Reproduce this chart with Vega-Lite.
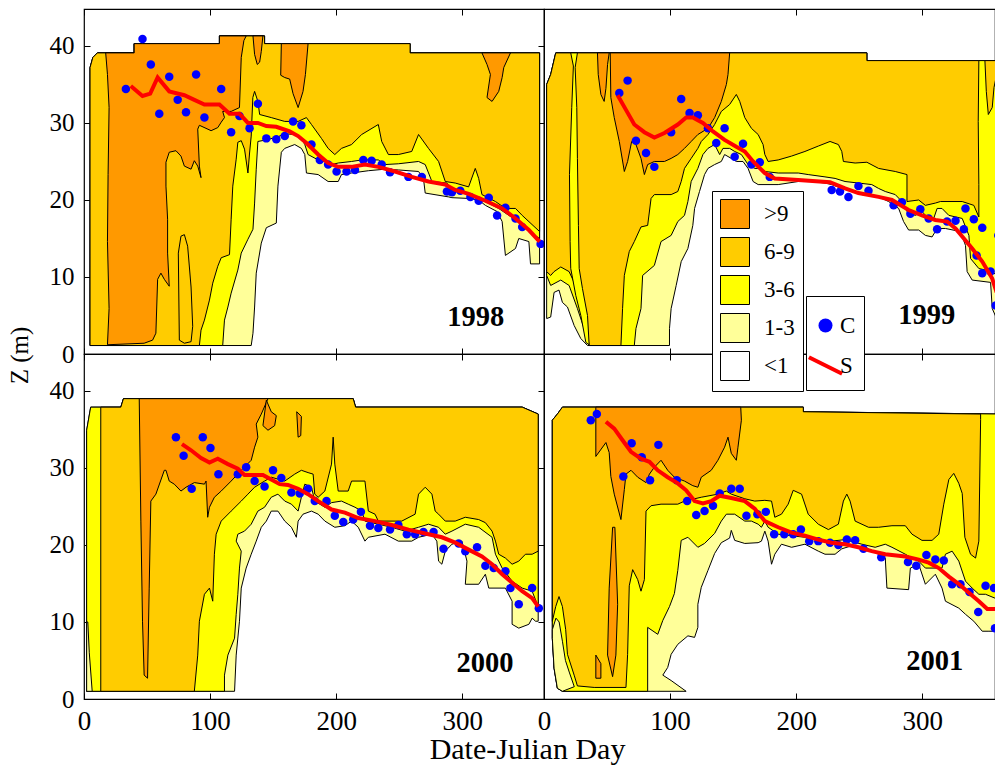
{
"$schema":"https://vega.github.io/schema/vega-lite/v6.json",
"background":"white",
"padding":{"left":6,"top":7,"right":0,"bottom":0},
"autosize":{"type":"pad"},
"columns":2,
"bounds":"flush",
"spacing":0,
"config":{
 "view":{"stroke":"black","strokeWidth":1.2},
 "axis":{"domain":false,"grid":false,"ticks":true,"tickSize":-6,"tickColor":"black","tickWidth":1,"labelFont":"Liberation Serif","labelColor":"black","labelFlush":false,"labelOverlap":false,"titleFont":"Liberation Serif","titleColor":"black","titleFontWeight":"normal"}
},
"datasets":{
"g98":[
{"k":"a","l":"1-3","x":4.8,"y":1.1},{"k":"a","l":"1-3","x":4.8,"y":37.2},{"k":"a","l":"1-3","x":7,"y":38.5},{"k":"a","l":"1-3","x":10.6,"y":39.1},{"k":"a","l":"1-3","x":39.8,"y":39.1},{"k":"a","l":"1-3","x":39.8,"y":40.3},{"k":"a","l":"1-3","x":107.4,"y":40.3},{"k":"a","l":"1-3","x":107.4,"y":41.3},{"k":"a","l":"1-3","x":143.2,"y":41.3},{"k":"a","l":"1-3","x":143.2,"y":40.3},{"k":"a","l":"1-3","x":258.6,"y":40.3},{"k":"a","l":"1-3","x":258.6,"y":39.1},{"k":"a","l":"1-3","x":361.3,"y":39.1},{"k":"a","l":"1-3","x":361.3,"y":11.7},{"k":"a","l":"1-3","x":354.1,"y":11.7},{"k":"a","l":"1-3","x":352.8,"y":14.6},{"k":"a","l":"1-3","x":344.8,"y":15},{"k":"a","l":"1-3","x":342.2,"y":13.7},{"k":"a","l":"1-3","x":334.2,"y":12.8},{"k":"a","l":"1-3","x":331.6,"y":17.2},{"k":"a","l":"1-3","x":327.6,"y":18.5},{"k":"a","l":"1-3","x":318.3,"y":19.3},{"k":"a","l":"1-3","x":313,"y":20},{"k":"a","l":"1-3","x":305,"y":20.2},{"k":"a","l":"1-3","x":291.8,"y":20.3},{"k":"a","l":"1-3","x":289.1,"y":20.4},{"k":"a","l":"1-3","x":270.6,"y":20.9},{"k":"a","l":"1-3","x":269.2,"y":22.8},{"k":"a","l":"1-3","x":265.3,"y":23.7},{"k":"a","l":"1-3","x":249.3,"y":23.9},{"k":"a","l":"1-3","x":238.7,"y":24},{"k":"a","l":"1-3","x":225.5,"y":23.8},{"k":"a","l":"1-3","x":212.2,"y":23.5},{"k":"a","l":"1-3","x":204.2,"y":23.3},{"k":"a","l":"1-3","x":201.6,"y":22.4},{"k":"a","l":"1-3","x":193.6,"y":22.4},{"k":"a","l":"1-3","x":185.7,"y":23.3},{"k":"a","l":"1-3","x":176.4,"y":23.5},{"k":"a","l":"1-3","x":175.1,"y":25.9},{"k":"a","l":"1-3","x":172.4,"y":26.7},{"k":"a","l":"1-3","x":167.1,"y":27.2},{"k":"a","l":"1-3","x":159.2,"y":26.7},{"k":"a","l":"1-3","x":156.5,"y":26.2},{"k":"a","l":"1-3","x":153.8,"y":21.8},{"k":"a","l":"1-3","x":152.5,"y":17},{"k":"a","l":"1-3","x":144.6,"y":16.4},{"k":"a","l":"1-3","x":140.6,"y":14.4},{"k":"a","l":"1-3","x":136.6,"y":10.5},{"k":"a","l":"1-3","x":135.3,"y":6.1},{"k":"a","l":"1-3","x":134,"y":2.7},{"k":"a","l":"1-3","x":132.6,"y":1.1},{"k":"a","l":"1-3","x":4.8,"y":1.1},
{"k":"b","l":"3-6","x":4.8,"y":1.1},{"k":"b","l":"3-6","x":4.8,"y":37.2},{"k":"b","l":"3-6","x":7,"y":38.5},{"k":"b","l":"3-6","x":10.6,"y":39.1},{"k":"b","l":"3-6","x":39.8,"y":39.1},{"k":"b","l":"3-6","x":39.8,"y":40.3},{"k":"b","l":"3-6","x":107.4,"y":40.3},{"k":"b","l":"3-6","x":107.4,"y":41.3},{"k":"b","l":"3-6","x":143.2,"y":41.3},{"k":"b","l":"3-6","x":143.2,"y":40.3},{"k":"b","l":"3-6","x":258.6,"y":40.3},{"k":"b","l":"3-6","x":258.6,"y":39.1},{"k":"b","l":"3-6","x":361.3,"y":39.1},{"k":"b","l":"3-6","x":361.3,"y":15},{"k":"b","l":"3-6","x":352.8,"y":15.9},{"k":"b","l":"3-6","x":344.8,"y":17.2},{"k":"b","l":"3-6","x":336.9,"y":18},{"k":"b","l":"3-6","x":328.9,"y":18.9},{"k":"b","l":"3-6","x":318.3,"y":19.8},{"k":"b","l":"3-6","x":305,"y":20.7},{"k":"b","l":"3-6","x":291.8,"y":21.3},{"k":"b","l":"3-6","x":287.8,"y":22.2},{"k":"b","l":"3-6","x":275.9,"y":22.4},{"k":"b","l":"3-6","x":270.6,"y":24.6},{"k":"b","l":"3-6","x":265.3,"y":25},{"k":"b","l":"3-6","x":249.3,"y":24.7},{"k":"b","l":"3-6","x":238.7,"y":24.6},{"k":"b","l":"3-6","x":233.4,"y":25.2},{"k":"b","l":"3-6","x":220.2,"y":25.2},{"k":"b","l":"3-6","x":212.2,"y":25},{"k":"b","l":"3-6","x":201.6,"y":24.8},{"k":"b","l":"3-6","x":196.3,"y":24.6},{"k":"b","l":"3-6","x":191,"y":25},{"k":"b","l":"3-6","x":185.7,"y":25.2},{"k":"b","l":"3-6","x":177.7,"y":25.9},{"k":"b","l":"3-6","x":175.1,"y":27.2},{"k":"b","l":"3-6","x":172.4,"y":28},{"k":"b","l":"3-6","x":167.1,"y":28.5},{"k":"b","l":"3-6","x":159.2,"y":28.6},{"k":"b","l":"3-6","x":153.8,"y":28.2},{"k":"b","l":"3-6","x":144.6,"y":27.8},{"k":"b","l":"3-6","x":137.9,"y":27.6},{"k":"b","l":"3-6","x":136.6,"y":24},{"k":"b","l":"3-6","x":135.3,"y":19.6},{"k":"b","l":"3-6","x":134,"y":16.2},{"k":"b","l":"3-6","x":130,"y":14.9},{"k":"b","l":"3-6","x":124.7,"y":13.1},{"k":"b","l":"3-6","x":122,"y":10.9},{"k":"b","l":"3-6","x":116.7,"y":7.9},{"k":"b","l":"3-6","x":114.1,"y":6.1},{"k":"b","l":"3-6","x":111.4,"y":4.4},{"k":"b","l":"3-6","x":110,"y":1.1},{"k":"b","l":"3-6","x":4.8,"y":1.1},
{"k":"c","l":"6-9","x":4.8,"y":1.1},{"k":"c","l":"6-9","x":4.8,"y":37.2},{"k":"c","l":"6-9","x":7,"y":38.5},{"k":"c","l":"6-9","x":10.6,"y":39.1},{"k":"c","l":"6-9","x":39.8,"y":39.1},{"k":"c","l":"6-9","x":39.8,"y":40.3},{"k":"c","l":"6-9","x":107.4,"y":40.3},{"k":"c","l":"6-9","x":107.4,"y":41.3},{"k":"c","l":"6-9","x":143.2,"y":41.3},{"k":"c","l":"6-9","x":143.2,"y":40.3},{"k":"c","l":"6-9","x":258.6,"y":40.3},{"k":"c","l":"6-9","x":258.6,"y":39.1},{"k":"c","l":"6-9","x":361.3,"y":39.1},{"k":"c","l":"6-9","x":361.3,"y":15.9},{"k":"c","l":"6-9","x":347.5,"y":18},{"k":"c","l":"6-9","x":342.2,"y":18.9},{"k":"c","l":"6-9","x":334.2,"y":18.9},{"k":"c","l":"6-9","x":326.3,"y":19.8},{"k":"c","l":"6-9","x":315.6,"y":20.7},{"k":"c","l":"6-9","x":313,"y":22.8},{"k":"c","l":"6-9","x":310.3,"y":24.1},{"k":"c","l":"6-9","x":305,"y":21.7},{"k":"c","l":"6-9","x":294.4,"y":22.2},{"k":"c","l":"6-9","x":286.5,"y":22.4},{"k":"c","l":"6-9","x":281.2,"y":25},{"k":"c","l":"6-9","x":273.2,"y":26.7},{"k":"c","l":"6-9","x":265.3,"y":28.5},{"k":"c","l":"6-9","x":259.9,"y":26.3},{"k":"c","l":"6-9","x":249.3,"y":25.9},{"k":"c","l":"6-9","x":241.4,"y":25.9},{"k":"c","l":"6-9","x":236.1,"y":27.6},{"k":"c","l":"6-9","x":233.4,"y":29.8},{"k":"c","l":"6-9","x":220.2,"y":28.5},{"k":"c","l":"6-9","x":212.2,"y":27.2},{"k":"c","l":"6-9","x":204.2,"y":26.7},{"k":"c","l":"6-9","x":198.9,"y":25.9},{"k":"c","l":"6-9","x":193.6,"y":26.7},{"k":"c","l":"6-9","x":188.3,"y":28},{"k":"c","l":"6-9","x":180.4,"y":29.8},{"k":"c","l":"6-9","x":176.4,"y":30.7},{"k":"c","l":"6-9","x":169.8,"y":30.2},{"k":"c","l":"6-9","x":159.2,"y":30.2},{"k":"c","l":"6-9","x":148.5,"y":30.7},{"k":"c","l":"6-9","x":139.3,"y":31.1},{"k":"c","l":"6-9","x":137.9,"y":32.8},{"k":"c","l":"6-9","x":135.3,"y":34.1},{"k":"c","l":"6-9","x":133.9,"y":33.3},{"k":"c","l":"6-9","x":132.6,"y":28.3},{"k":"c","l":"6-9","x":131.3,"y":26.1},{"k":"c","l":"6-9","x":130,"y":23.5},{"k":"c","l":"6-9","x":127.3,"y":26.6},{"k":"c","l":"6-9","x":124.7,"y":27.7},{"k":"c","l":"6-9","x":122,"y":27.5},{"k":"c","l":"6-9","x":120.7,"y":25.3},{"k":"c","l":"6-9","x":118,"y":21.8},{"k":"c","l":"6-9","x":116.7,"y":17.5},{"k":"c","l":"6-9","x":115.4,"y":12.9},{"k":"c","l":"6-9","x":108.8,"y":12.5},{"k":"c","l":"6-9","x":106.1,"y":11.4},{"k":"c","l":"6-9","x":102.1,"y":9.2},{"k":"c","l":"6-9","x":99.5,"y":7},{"k":"c","l":"6-9","x":95.5,"y":4.4},{"k":"c","l":"6-9","x":92.8,"y":3.1},{"k":"c","l":"6-9","x":91.5,"y":1.1},{"k":"c","l":"6-9","x":4.8,"y":1.1},
{"k":"d","l":">9","x":17.2,"y":39.1},{"k":"d","l":">9","x":18.6,"y":36.3},{"k":"d","l":">9","x":19.9,"y":32},{"k":"d","l":">9","x":19.1,"y":23.3},{"k":"d","l":">9","x":18.6,"y":14.6},{"k":"d","l":">9","x":19.9,"y":5.9},{"k":"d","l":">9","x":18.6,"y":1.2},{"k":"d","l":">9","x":47.7,"y":1.4},{"k":"d","l":">9","x":54.4,"y":1.8},{"k":"d","l":">9","x":57,"y":2.7},{"k":"d","l":">9","x":58.4,"y":9.7},{"k":"d","l":">9","x":61,"y":10.5},{"k":"d","l":">9","x":63.7,"y":9.7},{"k":"d","l":">9","x":67.6,"y":8.8},{"k":"d","l":">9","x":66.3,"y":13.1},{"k":"d","l":">9","x":66.3,"y":17.5},{"k":"d","l":">9","x":65,"y":21.8},{"k":"d","l":">9","x":65,"y":24.9},{"k":"d","l":">9","x":67.6,"y":26.2},{"k":"d","l":">9","x":72.9,"y":26.4},{"k":"d","l":">9","x":76.9,"y":25.7},{"k":"d","l":">9","x":79.6,"y":24.4},{"k":"d","l":">9","x":84.9,"y":24},{"k":"d","l":">9","x":87.5,"y":25.1},{"k":"d","l":">9","x":90.2,"y":24.4},{"k":"d","l":">9","x":92.8,"y":22.9},{"k":"d","l":">9","x":91.5,"y":24.4},{"k":"d","l":">9","x":90.2,"y":29.2},{"k":"d","l":">9","x":91.5,"y":29.7},{"k":"d","l":">9","x":100.8,"y":29},{"k":"d","l":">9","x":106.1,"y":29.4},{"k":"d","l":">9","x":108.8,"y":30.1},{"k":"d","l":">9","x":111.4,"y":30.7},{"k":"d","l":">9","x":110,"y":31.5},{"k":"d","l":">9","x":116.7,"y":31.5},{"k":"d","l":">9","x":123.3,"y":32},{"k":"d","l":">9","x":124.7,"y":38.5},{"k":"d","l":">9","x":126.8,"y":40.7},{"k":"d","l":">9","x":128.6,"y":41.3},{"k":"d","l":">9","x":107.4,"y":41.3},{"k":"d","l":">9","x":107.4,"y":40.3},{"k":"d","l":">9","x":39.8,"y":40.3},{"k":"d","l":">9","x":39.8,"y":39.1},{"k":"d","l":">9","x":17.2,"y":39.1},
{"k":"e","l":">9","x":134,"y":41.3},{"k":"e","l":">9","x":135.3,"y":38.9},{"k":"e","l":">9","x":137.4,"y":37.6},{"k":"e","l":">9","x":139.3,"y":37.9},{"k":"e","l":">9","x":140.6,"y":39.3},{"k":"e","l":">9","x":141.9,"y":41.3},{"k":"e","l":">9","x":134,"y":41.3},
{"k":"f","l":">9","x":156.5,"y":40.3},{"k":"f","l":">9","x":156,"y":36.2},{"k":"f","l":">9","x":159.2,"y":35.9},{"k":"f","l":">9","x":163.1,"y":35.7},{"k":"f","l":">9","x":165.8,"y":33.8},{"k":"f","l":">9","x":169.8,"y":32},{"k":"f","l":">9","x":173.7,"y":34.1},{"k":"f","l":">9","x":175.6,"y":36.3},{"k":"f","l":">9","x":177.7,"y":40.3},{"k":"f","l":">9","x":156.5,"y":40.3},
{"k":"g","l":">9","x":315.6,"y":39.1},{"k":"g","l":">9","x":319.6,"y":37.6},{"k":"g","l":">9","x":322.3,"y":36.3},{"k":"g","l":">9","x":319.6,"y":33.3},{"k":"g","l":">9","x":323.6,"y":32.8},{"k":"g","l":">9","x":328.9,"y":34.1},{"k":"g","l":">9","x":331.6,"y":35.9},{"k":"g","l":">9","x":332.9,"y":37.2},{"k":"g","l":">9","x":338.2,"y":39.1},{"k":"g","l":">9","x":315.6,"y":39.1},
{"k":"h","l":"6-9","x":75.6,"y":1.8},{"k":"h","l":"6-9","x":74.8,"y":13.1},{"k":"h","l":"6-9","x":76.9,"y":15.3},{"k":"h","l":"6-9","x":79.6,"y":15.5},{"k":"h","l":"6-9","x":82.2,"y":14},{"k":"h","l":"6-9","x":84.9,"y":8.7},{"k":"h","l":"6-9","x":86.2,"y":3.6},{"k":"h","l":"6-9","x":84.9,"y":1.6},{"k":"h","l":"6-9","x":79.6,"y":1.4},{"k":"h","l":"6-9","x":75.6,"y":1.8}
],
"g99":[
{"k":"a","l":"1-3","x":2.1,"y":4.6},{"k":"a","l":"1-3","x":2.1,"y":35},{"k":"a","l":"1-3","x":5.3,"y":36.3},{"k":"a","l":"1-3","x":9.3,"y":39.1},{"k":"a","l":"1-3","x":256,"y":39.1},{"k":"a","l":"1-3","x":256,"y":38.1},{"k":"a","l":"1-3","x":363,"y":38.1},{"k":"a","l":"1-3","x":363,"y":4.6},{"k":"a","l":"1-3","x":358.9,"y":4.6},{"k":"a","l":"1-3","x":355.4,"y":5.9},{"k":"a","l":"1-3","x":354.1,"y":9.3},{"k":"a","l":"1-3","x":339.5,"y":9.6},{"k":"a","l":"1-3","x":335.5,"y":10.7},{"k":"a","l":"1-3","x":334.2,"y":14.1},{"k":"a","l":"1-3","x":330.2,"y":15.9},{"k":"a","l":"1-3","x":318.3,"y":16.3},{"k":"a","l":"1-3","x":311.7,"y":16.3},{"k":"a","l":"1-3","x":307.7,"y":15.2},{"k":"a","l":"1-3","x":302.4,"y":15.4},{"k":"a","l":"1-3","x":297.1,"y":16.1},{"k":"a","l":"1-3","x":289.1,"y":16.1},{"k":"a","l":"1-3","x":285.1,"y":17.2},{"k":"a","l":"1-3","x":281.2,"y":18.9},{"k":"a","l":"1-3","x":273.2,"y":19.8},{"k":"a","l":"1-3","x":265.3,"y":20.4},{"k":"a","l":"1-3","x":252,"y":20.7},{"k":"a","l":"1-3","x":244,"y":21.3},{"k":"a","l":"1-3","x":236.1,"y":21.5},{"k":"a","l":"1-3","x":228.1,"y":22},{"k":"a","l":"1-3","x":222.8,"y":22.2},{"k":"a","l":"1-3","x":212.2,"y":22.4},{"k":"a","l":"1-3","x":201.6,"y":22.4},{"k":"a","l":"1-3","x":185.7,"y":22},{"k":"a","l":"1-3","x":169.8,"y":22},{"k":"a","l":"1-3","x":165.8,"y":22.4},{"k":"a","l":"1-3","x":161.8,"y":24.1},{"k":"a","l":"1-3","x":157.8,"y":25},{"k":"a","l":"1-3","x":152.5,"y":25},{"k":"a","l":"1-3","x":148.5,"y":25.4},{"k":"a","l":"1-3","x":143.2,"y":25.9},{"k":"a","l":"1-3","x":140.6,"y":25},{"k":"a","l":"1-3","x":135.3,"y":24.6},{"k":"a","l":"1-3","x":130,"y":24.1},{"k":"a","l":"1-3","x":127.3,"y":23.3},{"k":"a","l":"1-3","x":123.3,"y":21.1},{"k":"a","l":"1-3","x":119.4,"y":18.9},{"k":"a","l":"1-3","x":118,"y":16.7},{"k":"a","l":"1-3","x":114.1,"y":13.7},{"k":"a","l":"1-3","x":108.8,"y":12},{"k":"a","l":"1-3","x":104.8,"y":8.9},{"k":"a","l":"1-3","x":100.8,"y":5.9},{"k":"a","l":"1-3","x":99.5,"y":3.3},{"k":"a","l":"1-3","x":99.5,"y":1.1},{"k":"a","l":"1-3","x":34.5,"y":1.1},{"k":"a","l":"1-3","x":29.2,"y":2},{"k":"a","l":"1-3","x":23.9,"y":3.7},{"k":"a","l":"1-3","x":18.6,"y":6.1},{"k":"a","l":"1-3","x":14.6,"y":6.7},{"k":"a","l":"1-3","x":11.9,"y":8.3},{"k":"a","l":"1-3","x":8,"y":8},{"k":"a","l":"1-3","x":5.3,"y":4.8},{"k":"a","l":"1-3","x":2.1,"y":4.6},
{"k":"b","l":"3-6","x":2.1,"y":10.2},{"k":"b","l":"3-6","x":2.1,"y":35},{"k":"b","l":"3-6","x":5.3,"y":36.3},{"k":"b","l":"3-6","x":9.3,"y":39.1},{"k":"b","l":"3-6","x":256,"y":39.1},{"k":"b","l":"3-6","x":256,"y":38.1},{"k":"b","l":"3-6","x":363,"y":38.1},{"k":"b","l":"3-6","x":363,"y":10.2},{"k":"b","l":"3-6","x":358.9,"y":10.2},{"k":"b","l":"3-6","x":355.4,"y":10.7},{"k":"b","l":"3-6","x":344.8,"y":11.1},{"k":"b","l":"3-6","x":338.2,"y":12.4},{"k":"b","l":"3-6","x":336.9,"y":15.4},{"k":"b","l":"3-6","x":331.6,"y":17.6},{"k":"b","l":"3-6","x":321,"y":18},{"k":"b","l":"3-6","x":315.6,"y":18.9},{"k":"b","l":"3-6","x":311.7,"y":18.9},{"k":"b","l":"3-6","x":309,"y":17.6},{"k":"b","l":"3-6","x":303.7,"y":17.8},{"k":"b","l":"3-6","x":299.7,"y":18.5},{"k":"b","l":"3-6","x":294.4,"y":18},{"k":"b","l":"3-6","x":287.8,"y":18.5},{"k":"b","l":"3-6","x":283.8,"y":19.8},{"k":"b","l":"3-6","x":278.5,"y":20.7},{"k":"b","l":"3-6","x":270.6,"y":21.1},{"k":"b","l":"3-6","x":265.3,"y":21.5},{"k":"b","l":"3-6","x":259.9,"y":22},{"k":"b","l":"3-6","x":249.3,"y":22.2},{"k":"b","l":"3-6","x":238.7,"y":22.4},{"k":"b","l":"3-6","x":230.8,"y":22.8},{"k":"b","l":"3-6","x":222.8,"y":23},{"k":"b","l":"3-6","x":209.5,"y":23.3},{"k":"b","l":"3-6","x":201.6,"y":23.5},{"k":"b","l":"3-6","x":185.7,"y":23.5},{"k":"b","l":"3-6","x":175.1,"y":23.7},{"k":"b","l":"3-6","x":172.4,"y":24.1},{"k":"b","l":"3-6","x":167.1,"y":24.1},{"k":"b","l":"3-6","x":161.8,"y":24.6},{"k":"b","l":"3-6","x":156.5,"y":25.9},{"k":"b","l":"3-6","x":151.2,"y":26.3},{"k":"b","l":"3-6","x":147.2,"y":26.7},{"k":"b","l":"3-6","x":141.9,"y":26.7},{"k":"b","l":"3-6","x":139.3,"y":25.9},{"k":"b","l":"3-6","x":135.3,"y":27.2},{"k":"b","l":"3-6","x":130,"y":26.7},{"k":"b","l":"3-6","x":126,"y":25.9},{"k":"b","l":"3-6","x":122,"y":24.1},{"k":"b","l":"3-6","x":116.7,"y":22.4},{"k":"b","l":"3-6","x":114.1,"y":19.8},{"k":"b","l":"3-6","x":111.4,"y":18},{"k":"b","l":"3-6","x":106.1,"y":17.2},{"k":"b","l":"3-6","x":100.8,"y":15.4},{"k":"b","l":"3-6","x":92.8,"y":14.6},{"k":"b","l":"3-6","x":87.5,"y":11.5},{"k":"b","l":"3-6","x":78.2,"y":10.2},{"k":"b","l":"3-6","x":76.9,"y":5.9},{"k":"b","l":"3-6","x":72.9,"y":3.3},{"k":"b","l":"3-6","x":71.6,"y":1.1},{"k":"b","l":"3-6","x":35.8,"y":1.1},{"k":"b","l":"3-6","x":31.8,"y":3.3},{"k":"b","l":"3-6","x":26.5,"y":5.9},{"k":"b","l":"3-6","x":19.9,"y":8.9},{"k":"b","l":"3-6","x":13.3,"y":9.6},{"k":"b","l":"3-6","x":5.3,"y":8.9},{"k":"b","l":"3-6","x":2.1,"y":10.2},
{"k":"c","l":"6-9","x":2.1,"y":10.7},{"k":"c","l":"6-9","x":2.1,"y":35},{"k":"c","l":"6-9","x":5.3,"y":36.3},{"k":"c","l":"6-9","x":9.3,"y":39.1},{"k":"c","l":"6-9","x":256,"y":39.1},{"k":"c","l":"6-9","x":256,"y":38.1},{"k":"c","l":"6-9","x":344.8,"y":38.1},{"k":"c","l":"6-9","x":344.3,"y":30.2},{"k":"c","l":"6-9","x":344.8,"y":22},{"k":"c","l":"6-9","x":344.8,"y":17.8},{"k":"c","l":"6-9","x":340.8,"y":19.3},{"k":"c","l":"6-9","x":331.6,"y":19.8},{"k":"c","l":"6-9","x":314.3,"y":19.8},{"k":"c","l":"6-9","x":310.3,"y":19.6},{"k":"c","l":"6-9","x":302.4,"y":19.3},{"k":"c","l":"6-9","x":297.1,"y":20},{"k":"c","l":"6-9","x":287.8,"y":19.8},{"k":"c","l":"6-9","x":287.8,"y":23.3},{"k":"c","l":"6-9","x":278.5,"y":23.7},{"k":"c","l":"6-9","x":265.3,"y":24.1},{"k":"c","l":"6-9","x":256,"y":24.9},{"k":"c","l":"6-9","x":246.7,"y":24.8},{"k":"c","l":"6-9","x":237.4,"y":25},{"k":"c","l":"6-9","x":236.1,"y":26.3},{"k":"c","l":"6-9","x":233.4,"y":27.2},{"k":"c","l":"6-9","x":226.8,"y":27.6},{"k":"c","l":"6-9","x":217.5,"y":27},{"k":"c","l":"6-9","x":206.9,"y":26.3},{"k":"c","l":"6-9","x":196.3,"y":25.7},{"k":"c","l":"6-9","x":185.7,"y":25.2},{"k":"c","l":"6-9","x":177.7,"y":25},{"k":"c","l":"6-9","x":175.1,"y":25.9},{"k":"c","l":"6-9","x":173.7,"y":27.2},{"k":"c","l":"6-9","x":169.8,"y":28.5},{"k":"c","l":"6-9","x":164.5,"y":29.3},{"k":"c","l":"6-9","x":159.2,"y":30.7},{"k":"c","l":"6-9","x":155.2,"y":32.8},{"k":"c","l":"6-9","x":152.5,"y":33.7},{"k":"c","l":"6-9","x":147.2,"y":32.4},{"k":"c","l":"6-9","x":140.6,"y":31.5},{"k":"c","l":"6-9","x":135.3,"y":29.8},{"k":"c","l":"6-9","x":130,"y":28.5},{"k":"c","l":"6-9","x":124.7,"y":27.6},{"k":"c","l":"6-9","x":122,"y":26.7},{"k":"c","l":"6-9","x":116.7,"y":25.4},{"k":"c","l":"6-9","x":111.4,"y":24.1},{"k":"c","l":"6-9","x":108.8,"y":22.4},{"k":"c","l":"6-9","x":106.1,"y":21.1},{"k":"c","l":"6-9","x":100.8,"y":20.7},{"k":"c","l":"6-9","x":87.5,"y":20.7},{"k":"c","l":"6-9","x":84.9,"y":20.2},{"k":"c","l":"6-9","x":82.2,"y":16.7},{"k":"c","l":"6-9","x":76.9,"y":16.5},{"k":"c","l":"6-9","x":71.6,"y":14.6},{"k":"c","l":"6-9","x":67.6,"y":13.3},{"k":"c","l":"6-9","x":63.7,"y":10.2},{"k":"c","l":"6-9","x":62.3,"y":5.9},{"k":"c","l":"6-9","x":61,"y":1.1},{"k":"c","l":"6-9","x":35.8,"y":1.1},{"k":"c","l":"6-9","x":33.2,"y":3.7},{"k":"c","l":"6-9","x":29.2,"y":6.7},{"k":"c","l":"6-9","x":23.9,"y":9.3},{"k":"c","l":"6-9","x":19.9,"y":10.7},{"k":"c","l":"6-9","x":13.3,"y":11.3},{"k":"c","l":"6-9","x":8,"y":10.7},{"k":"c","l":"6-9","x":5.3,"y":10.2},{"k":"c","l":"6-9","x":2.1,"y":10.7},
{"k":"d","l":">9","x":52.5,"y":39.1},{"k":"d","l":">9","x":53,"y":33.3},{"k":"d","l":">9","x":55.7,"y":30.7},{"k":"d","l":">9","x":59.7,"y":27.6},{"k":"d","l":">9","x":63.7,"y":23.7},{"k":"d","l":">9","x":66.3,"y":25},{"k":"d","l":">9","x":69.5,"y":27.6},{"k":"d","l":">9","x":72.9,"y":27.2},{"k":"d","l":">9","x":76.9,"y":25.4},{"k":"d","l":">9","x":79.6,"y":23.3},{"k":"d","l":">9","x":82.2,"y":24.6},{"k":"d","l":">9","x":87.5,"y":25},{"k":"d","l":">9","x":95.5,"y":25},{"k":"d","l":">9","x":100.8,"y":25.4},{"k":"d","l":">9","x":106.1,"y":25.9},{"k":"d","l":">9","x":111.4,"y":26.7},{"k":"d","l":">9","x":116.7,"y":27.6},{"k":"d","l":">9","x":122,"y":28.5},{"k":"d","l":">9","x":130,"y":29.3},{"k":"d","l":">9","x":135.3,"y":30.7},{"k":"d","l":">9","x":140.6,"y":32.8},{"k":"d","l":">9","x":144.6,"y":35},{"k":"d","l":">9","x":145.9,"y":36.3},{"k":"d","l":">9","x":147.2,"y":39.1},{"k":"d","l":">9","x":52.5,"y":39.1},
{"k":"e","l":">9","x":42.4,"y":39.1},{"k":"e","l":">9","x":43,"y":36.3},{"k":"e","l":">9","x":45.1,"y":33.7},{"k":"e","l":">9","x":47.7,"y":32.8},{"k":"e","l":">9","x":49.1,"y":34.5},{"k":"e","l":">9","x":50.4,"y":37.6},{"k":"e","l":">9","x":51.7,"y":39.1},{"k":"e","l":">9","x":42.4,"y":39.1},
{"k":"f","l":"3-6","x":21.2,"y":39.1},{"k":"f","l":"3-6","x":23.3,"y":37.4},{"k":"f","l":"3-6","x":22,"y":32},{"k":"f","l":"3-6","x":20.2,"y":23.3},{"k":"f","l":"3-6","x":20.7,"y":14.6},{"k":"f","l":"3-6","x":21.2,"y":11.1},{"k":"f","l":"3-6","x":25.2,"y":7.6},{"k":"f","l":"3-6","x":29.2,"y":5},{"k":"f","l":"3-6","x":33.2,"y":1.5},{"k":"f","l":"3-6","x":35.8,"y":1.2},{"k":"f","l":"3-6","x":34.5,"y":5},{"k":"f","l":"3-6","x":30.5,"y":8.5},{"k":"f","l":"3-6","x":27.9,"y":11.1},{"k":"f","l":"3-6","x":27.3,"y":16.7},{"k":"f","l":"3-6","x":26.5,"y":25.4},{"k":"f","l":"3-6","x":26,"y":32},{"k":"f","l":"3-6","x":24.7,"y":37.2},{"k":"f","l":"3-6","x":26.5,"y":39.1},{"k":"f","l":"3-6","x":21.2,"y":39.1},
{"k":"g","l":"6-9","x":349.6,"y":38.1},{"k":"g","l":"6-9","x":350.7,"y":34.1},{"k":"g","l":"6-9","x":352.3,"y":31.1},{"k":"g","l":"6-9","x":355.4,"y":32},{"k":"g","l":"6-9","x":356.8,"y":34.6},{"k":"g","l":"6-9","x":358.9,"y":36.3},{"k":"g","l":"6-9","x":360.7,"y":38.1},{"k":"g","l":"6-9","x":349.6,"y":38.1}
],
"g00":[
{"k":"a","l":"1-3","x":2.1,"y":1},{"k":"a","l":"1-3","x":2.1,"y":34.9},{"k":"a","l":"1-3","x":5.3,"y":37.9},{"k":"a","l":"1-3","x":29.2,"y":37.9},{"k":"a","l":"1-3","x":31.3,"y":39},{"k":"a","l":"1-3","x":213.5,"y":39},{"k":"a","l":"1-3","x":215.4,"y":37.9},{"k":"a","l":"1-3","x":347.5,"y":37.9},{"k":"a","l":"1-3","x":360.2,"y":37},{"k":"a","l":"1-3","x":360.2,"y":10.1},{"k":"a","l":"1-3","x":358.1,"y":10.1},{"k":"a","l":"1-3","x":355.4,"y":10.5},{"k":"a","l":"1-3","x":352.8,"y":9.7},{"k":"a","l":"1-3","x":344.8,"y":9.2},{"k":"a","l":"1-3","x":339.5,"y":9.7},{"k":"a","l":"1-3","x":339.5,"y":12.7},{"k":"a","l":"1-3","x":334.2,"y":14.4},{"k":"a","l":"1-3","x":321,"y":14.4},{"k":"a","l":"1-3","x":318.3,"y":16.2},{"k":"a","l":"1-3","x":313,"y":14.9},{"k":"a","l":"1-3","x":302.4,"y":14.9},{"k":"a","l":"1-3","x":303.7,"y":17.9},{"k":"a","l":"1-3","x":299.7,"y":20.5},{"k":"a","l":"1-3","x":291.8,"y":20.1},{"k":"a","l":"1-3","x":286.5,"y":19.2},{"k":"a","l":"1-3","x":283.8,"y":17.5},{"k":"a","l":"1-3","x":281.2,"y":17.9},{"k":"a","l":"1-3","x":279.8,"y":20.5},{"k":"a","l":"1-3","x":275.9,"y":21.4},{"k":"a","l":"1-3","x":265.3,"y":21},{"k":"a","l":"1-3","x":259.9,"y":20.5},{"k":"a","l":"1-3","x":249.3,"y":20.5},{"k":"a","l":"1-3","x":238.7,"y":21.4},{"k":"a","l":"1-3","x":225.5,"y":21},{"k":"a","l":"1-3","x":222.8,"y":20.5},{"k":"a","l":"1-3","x":217.5,"y":22.3},{"k":"a","l":"1-3","x":212.2,"y":23.1},{"k":"a","l":"1-3","x":206.9,"y":22.5},{"k":"a","l":"1-3","x":198.9,"y":22.3},{"k":"a","l":"1-3","x":191,"y":23.1},{"k":"a","l":"1-3","x":185.7,"y":24},{"k":"a","l":"1-3","x":180.4,"y":24.4},{"k":"a","l":"1-3","x":173.7,"y":24},{"k":"a","l":"1-3","x":169.8,"y":23.1},{"k":"a","l":"1-3","x":168.4,"y":21},{"k":"a","l":"1-3","x":164.5,"y":22.3},{"k":"a","l":"1-3","x":159.2,"y":23.1},{"k":"a","l":"1-3","x":153.8,"y":24.4},{"k":"a","l":"1-3","x":148.5,"y":24.4},{"k":"a","l":"1-3","x":144.6,"y":23.1},{"k":"a","l":"1-3","x":140.6,"y":22.3},{"k":"a","l":"1-3","x":136.6,"y":20.5},{"k":"a","l":"1-3","x":132.6,"y":18.8},{"k":"a","l":"1-3","x":128.6,"y":17},{"k":"a","l":"1-3","x":124.7,"y":14.4},{"k":"a","l":"1-3","x":123.3,"y":10.1},{"k":"a","l":"1-3","x":120.7,"y":5.7},{"k":"a","l":"1-3","x":119.4,"y":1},{"k":"a","l":"1-3","x":2.1,"y":1},
{"k":"b","l":"3-6","x":2.1,"y":1},{"k":"b","l":"3-6","x":2.1,"y":34.9},{"k":"b","l":"3-6","x":5.3,"y":37.9},{"k":"b","l":"3-6","x":29.2,"y":37.9},{"k":"b","l":"3-6","x":31.3,"y":39},{"k":"b","l":"3-6","x":213.5,"y":39},{"k":"b","l":"3-6","x":215.4,"y":37.9},{"k":"b","l":"3-6","x":347.5,"y":37.9},{"k":"b","l":"3-6","x":360.2,"y":37},{"k":"b","l":"3-6","x":360.2,"y":12},{"k":"b","l":"3-6","x":355.4,"y":14},{"k":"b","l":"3-6","x":347.5,"y":14.4},{"k":"b","l":"3-6","x":339.5,"y":15.3},{"k":"b","l":"3-6","x":331.6,"y":17},{"k":"b","l":"3-6","x":326.3,"y":18.8},{"k":"b","l":"3-6","x":323.6,"y":21},{"k":"b","l":"3-6","x":313,"y":22.3},{"k":"b","l":"3-6","x":302.4,"y":22.7},{"k":"b","l":"3-6","x":291.8,"y":21.8},{"k":"b","l":"3-6","x":286.5,"y":21.4},{"k":"b","l":"3-6","x":281.2,"y":22.3},{"k":"b","l":"3-6","x":273.2,"y":22.7},{"k":"b","l":"3-6","x":265.3,"y":22.3},{"k":"b","l":"3-6","x":254.6,"y":21.8},{"k":"b","l":"3-6","x":244,"y":22.3},{"k":"b","l":"3-6","x":233.4,"y":22.7},{"k":"b","l":"3-6","x":222.8,"y":23.1},{"k":"b","l":"3-6","x":220.2,"y":24.4},{"k":"b","l":"3-6","x":214.9,"y":24.9},{"k":"b","l":"3-6","x":209.5,"y":25.3},{"k":"b","l":"3-6","x":204.2,"y":25.7},{"k":"b","l":"3-6","x":196.3,"y":25.5},{"k":"b","l":"3-6","x":191,"y":24.9},{"k":"b","l":"3-6","x":183,"y":25.7},{"k":"b","l":"3-6","x":180.4,"y":27.5},{"k":"b","l":"3-6","x":175.1,"y":27.9},{"k":"b","l":"3-6","x":172.4,"y":26.2},{"k":"b","l":"3-6","x":169.8,"y":24.4},{"k":"b","l":"3-6","x":164.5,"y":25.3},{"k":"b","l":"3-6","x":159.2,"y":25.7},{"k":"b","l":"3-6","x":153.8,"y":26.6},{"k":"b","l":"3-6","x":148.5,"y":26.2},{"k":"b","l":"3-6","x":143.2,"y":24.9},{"k":"b","l":"3-6","x":137.9,"y":24.4},{"k":"b","l":"3-6","x":132.6,"y":22.7},{"k":"b","l":"3-6","x":127.3,"y":21.8},{"k":"b","l":"3-6","x":122,"y":21.4},{"k":"b","l":"3-6","x":120.7,"y":20.5},{"k":"b","l":"3-6","x":124.7,"y":19.2},{"k":"b","l":"3-6","x":123.3,"y":17},{"k":"b","l":"3-6","x":122,"y":13.6},{"k":"b","l":"3-6","x":120.7,"y":11},{"k":"b","l":"3-6","x":119.4,"y":7.9},{"k":"b","l":"3-6","x":114.1,"y":5.7},{"k":"b","l":"3-6","x":111.4,"y":3.1},{"k":"b","l":"3-6","x":111.4,"y":1},{"k":"b","l":"3-6","x":2.1,"y":1},
{"k":"c","l":"6-9","x":13.3,"y":1},{"k":"c","l":"6-9","x":13.3,"y":37.9},{"k":"c","l":"6-9","x":29.2,"y":37.9},{"k":"c","l":"6-9","x":31.3,"y":39},{"k":"c","l":"6-9","x":213.5,"y":39},{"k":"c","l":"6-9","x":215.4,"y":37.9},{"k":"c","l":"6-9","x":347.5,"y":37.9},{"k":"c","l":"6-9","x":360.2,"y":37},{"k":"c","l":"6-9","x":360.2,"y":19.2},{"k":"c","l":"6-9","x":355.4,"y":18.8},{"k":"c","l":"6-9","x":350.1,"y":18.8},{"k":"c","l":"6-9","x":344.8,"y":17.9},{"k":"c","l":"6-9","x":339.5,"y":17.5},{"k":"c","l":"6-9","x":334.2,"y":18.3},{"k":"c","l":"6-9","x":328.9,"y":18.8},{"k":"c","l":"6-9","x":326.3,"y":20.5},{"k":"c","l":"6-9","x":323.6,"y":21.8},{"k":"c","l":"6-9","x":318.3,"y":22.9},{"k":"c","l":"6-9","x":313,"y":23.3},{"k":"c","l":"6-9","x":302.4,"y":23.6},{"k":"c","l":"6-9","x":294.4,"y":23.1},{"k":"c","l":"6-9","x":286.5,"y":23.1},{"k":"c","l":"6-9","x":281.2,"y":24},{"k":"c","l":"6-9","x":278.5,"y":24.4},{"k":"c","l":"6-9","x":275.9,"y":26.6},{"k":"c","l":"6-9","x":270.6,"y":27.5},{"k":"c","l":"6-9","x":265.3,"y":26.6},{"k":"c","l":"6-9","x":262.6,"y":24},{"k":"c","l":"6-9","x":252,"y":23.1},{"k":"c","l":"6-9","x":233.4,"y":23.1},{"k":"c","l":"6-9","x":230.8,"y":24},{"k":"c","l":"6-9","x":225.5,"y":24.4},{"k":"c","l":"6-9","x":222.8,"y":28.3},{"k":"c","l":"6-9","x":212.2,"y":28.3},{"k":"c","l":"6-9","x":209.5,"y":27},{"k":"c","l":"6-9","x":201.6,"y":27},{"k":"c","l":"6-9","x":198.9,"y":30.5},{"k":"c","l":"6-9","x":197.6,"y":34},{"k":"c","l":"6-9","x":196.3,"y":30.5},{"k":"c","l":"6-9","x":191,"y":27},{"k":"c","l":"6-9","x":185.7,"y":26.2},{"k":"c","l":"6-9","x":183,"y":26.6},{"k":"c","l":"6-9","x":181.7,"y":29.2},{"k":"c","l":"6-9","x":177.7,"y":29.4},{"k":"c","l":"6-9","x":172.4,"y":29.7},{"k":"c","l":"6-9","x":167.1,"y":29.2},{"k":"c","l":"6-9","x":159.2,"y":28.3},{"k":"c","l":"6-9","x":148.5,"y":28.8},{"k":"c","l":"6-9","x":143.2,"y":28.3},{"k":"c","l":"6-9","x":135.3,"y":27.5},{"k":"c","l":"6-9","x":130,"y":26.6},{"k":"c","l":"6-9","x":124.7,"y":25.7},{"k":"c","l":"6-9","x":116.7,"y":24.4},{"k":"c","l":"6-9","x":108.8,"y":23.1},{"k":"c","l":"6-9","x":104.8,"y":21.4},{"k":"c","l":"6-9","x":103.4,"y":18.8},{"k":"c","l":"6-9","x":102.1,"y":12.7},{"k":"c","l":"6-9","x":99.5,"y":14.4},{"k":"c","l":"6-9","x":95.5,"y":13.6},{"k":"c","l":"6-9","x":91.5,"y":10.1},{"k":"c","l":"6-9","x":90.2,"y":5.7},{"k":"c","l":"6-9","x":87.5,"y":1},{"k":"c","l":"6-9","x":13.3,"y":1},
{"k":"d","l":">9","x":43.8,"y":39},{"k":"d","l":">9","x":145.9,"y":39},{"k":"d","l":">9","x":140.6,"y":37},{"k":"d","l":">9","x":136.6,"y":35.7},{"k":"d","l":">9","x":137.9,"y":34},{"k":"d","l":">9","x":135.3,"y":32.7},{"k":"d","l":">9","x":132.6,"y":31},{"k":"d","l":">9","x":124.7,"y":29.7},{"k":"d","l":">9","x":116.7,"y":28.3},{"k":"d","l":">9","x":108.8,"y":27},{"k":"d","l":">9","x":103.4,"y":26.2},{"k":"d","l":">9","x":99.5,"y":24.9},{"k":"d","l":">9","x":98.1,"y":23.6},{"k":"d","l":">9","x":96.8,"y":28.3},{"k":"d","l":">9","x":95.5,"y":27.9},{"k":"d","l":">9","x":87.5,"y":28.1},{"k":"d","l":">9","x":80.9,"y":27.5},{"k":"d","l":">9","x":76.9,"y":27},{"k":"d","l":">9","x":71.6,"y":27.9},{"k":"d","l":">9","x":67.6,"y":28.3},{"k":"d","l":">9","x":65,"y":29.7},{"k":"d","l":">9","x":63.7,"y":29.7},{"k":"d","l":">9","x":57,"y":26.6},{"k":"d","l":">9","x":53,"y":25.7},{"k":"d","l":">9","x":51.7,"y":14.4},{"k":"d","l":">9","x":50.4,"y":2.7},{"k":"d","l":">9","x":47.7,"y":3.1},{"k":"d","l":">9","x":46.4,"y":10.1},{"k":"d","l":">9","x":45.1,"y":23.1},{"k":"d","l":">9","x":43.8,"y":39},
{"k":"e","l":">9","x":144.6,"y":38.8},{"k":"e","l":">9","x":148.5,"y":37.3},{"k":"e","l":">9","x":152.5,"y":36.8},{"k":"e","l":">9","x":151.2,"y":35.5},{"k":"e","l":">9","x":145.9,"y":34.9},{"k":"e","l":">9","x":141.9,"y":35.5},{"k":"e","l":">9","x":144.6,"y":38.8},
{"k":"f","l":">9","x":168.7,"y":37.3},{"k":"f","l":">9","x":169.8,"y":34},{"k":"f","l":">9","x":171.9,"y":34.2},{"k":"f","l":">9","x":172.4,"y":36.7},{"k":"f","l":">9","x":168.7,"y":37.3},
{"k":"g","l":"1-3","x":2.1,"y":10},{"k":"g","l":"1-3","x":3,"y":10},{"k":"g","l":"1-3","x":4.2,"y":6},{"k":"g","l":"1-3","x":6.5,"y":1},{"k":"g","l":"1-3","x":2.1,"y":1},{"k":"g","l":"1-3","x":2.1,"y":10}
],
"g01":[
{"k":"a","l":"1-3","x":6.6,"y":36.2},{"k":"a","l":"1-3","x":10.6,"y":37},{"k":"a","l":"1-3","x":14.6,"y":37.9},{"k":"a","l":"1-3","x":205.6,"y":37.9},{"k":"a","l":"1-3","x":205.6,"y":37.3},{"k":"a","l":"1-3","x":363.4,"y":37},{"k":"a","l":"1-3","x":363.4,"y":8.8},{"k":"a","l":"1-3","x":352.8,"y":8.8},{"k":"a","l":"1-3","x":347.5,"y":8.8},{"k":"a","l":"1-3","x":340.8,"y":10.1},{"k":"a","l":"1-3","x":334.2,"y":11},{"k":"a","l":"1-3","x":328.9,"y":11.8},{"k":"a","l":"1-3","x":318.3,"y":12.7},{"k":"a","l":"1-3","x":315.6,"y":14.4},{"k":"a","l":"1-3","x":310.3,"y":16.2},{"k":"a","l":"1-3","x":302.4,"y":14.9},{"k":"a","l":"1-3","x":297.1,"y":17.5},{"k":"a","l":"1-3","x":290.5,"y":17},{"k":"a","l":"1-3","x":289.1,"y":14.2},{"k":"a","l":"1-3","x":271.9,"y":14.4},{"k":"a","l":"1-3","x":270.6,"y":18.3},{"k":"a","l":"1-3","x":265.3,"y":18.8},{"k":"a","l":"1-3","x":254.6,"y":19.7},{"k":"a","l":"1-3","x":244,"y":19.9},{"k":"a","l":"1-3","x":236.1,"y":19.5},{"k":"a","l":"1-3","x":230.8,"y":18.8},{"k":"a","l":"1-3","x":222.8,"y":18.8},{"k":"a","l":"1-3","x":217.5,"y":19.2},{"k":"a","l":"1-3","x":206.9,"y":20.1},{"k":"a","l":"1-3","x":196.3,"y":19.7},{"k":"a","l":"1-3","x":188.3,"y":20.1},{"k":"a","l":"1-3","x":183,"y":18.8},{"k":"a","l":"1-3","x":180.4,"y":17.5},{"k":"a","l":"1-3","x":177.7,"y":20.5},{"k":"a","l":"1-3","x":175.1,"y":21.8},{"k":"a","l":"1-3","x":172.4,"y":20.5},{"k":"a","l":"1-3","x":169.8,"y":20.3},{"k":"a","l":"1-3","x":159.2,"y":20.2},{"k":"a","l":"1-3","x":151.2,"y":20.6},{"k":"a","l":"1-3","x":148.5,"y":21.9},{"k":"a","l":"1-3","x":147.2,"y":20.9},{"k":"a","l":"1-3","x":140.6,"y":20.3},{"k":"a","l":"1-3","x":135.3,"y":18.9},{"k":"a","l":"1-3","x":130,"y":16.7},{"k":"a","l":"1-3","x":124.7,"y":14.5},{"k":"a","l":"1-3","x":122,"y":12.3},{"k":"a","l":"1-3","x":122,"y":9.3},{"k":"a","l":"1-3","x":119.4,"y":8},{"k":"a","l":"1-3","x":114.1,"y":8.2},{"k":"a","l":"1-3","x":106.1,"y":7.1},{"k":"a","l":"1-3","x":100.8,"y":5.8},{"k":"a","l":"1-3","x":98.1,"y":4.1},{"k":"a","l":"1-3","x":94.2,"y":3.1},{"k":"a","l":"1-3","x":100.8,"y":2.4},{"k":"a","l":"1-3","x":112.7,"y":1},{"k":"a","l":"1-3","x":14.6,"y":1},{"k":"a","l":"1-3","x":10.6,"y":1.4},{"k":"a","l":"1-3","x":8,"y":4},{"k":"a","l":"1-3","x":6.6,"y":7.9},{"k":"a","l":"1-3","x":6.6,"y":36.2},
{"k":"b","l":"3-6","x":6.6,"y":36.2},{"k":"b","l":"3-6","x":10.6,"y":37},{"k":"b","l":"3-6","x":14.6,"y":37.9},{"k":"b","l":"3-6","x":205.6,"y":37.9},{"k":"b","l":"3-6","x":205.6,"y":37.3},{"k":"b","l":"3-6","x":363.4,"y":37},{"k":"b","l":"3-6","x":363.4,"y":12.7},{"k":"b","l":"3-6","x":350.1,"y":13.6},{"k":"b","l":"3-6","x":344.8,"y":13.6},{"k":"b","l":"3-6","x":339.5,"y":14.4},{"k":"b","l":"3-6","x":334.2,"y":15.3},{"k":"b","l":"3-6","x":328.9,"y":17.9},{"k":"b","l":"3-6","x":323.6,"y":19.2},{"k":"b","l":"3-6","x":318.3,"y":18.8},{"k":"b","l":"3-6","x":315.6,"y":17},{"k":"b","l":"3-6","x":302.4,"y":17},{"k":"b","l":"3-6","x":297.1,"y":17.9},{"k":"b","l":"3-6","x":291.8,"y":18.3},{"k":"b","l":"3-6","x":286.5,"y":18.8},{"k":"b","l":"3-6","x":275.9,"y":19.7},{"k":"b","l":"3-6","x":270.6,"y":20.1},{"k":"b","l":"3-6","x":262.6,"y":19.7},{"k":"b","l":"3-6","x":252,"y":20.1},{"k":"b","l":"3-6","x":238.7,"y":20.7},{"k":"b","l":"3-6","x":228.1,"y":20.5},{"k":"b","l":"3-6","x":217.5,"y":20.7},{"k":"b","l":"3-6","x":206.9,"y":21},{"k":"b","l":"3-6","x":196.3,"y":21.2},{"k":"b","l":"3-6","x":185.7,"y":21.4},{"k":"b","l":"3-6","x":177.7,"y":22.3},{"k":"b","l":"3-6","x":175.1,"y":23.1},{"k":"b","l":"3-6","x":172.4,"y":22.3},{"k":"b","l":"3-6","x":169.8,"y":22.7},{"k":"b","l":"3-6","x":164.5,"y":23.1},{"k":"b","l":"3-6","x":159.2,"y":23.1},{"k":"b","l":"3-6","x":151.2,"y":24},{"k":"b","l":"3-6","x":144.6,"y":24},{"k":"b","l":"3-6","x":140.6,"y":23.1},{"k":"b","l":"3-6","x":135.3,"y":21.5},{"k":"b","l":"3-6","x":127.3,"y":20.2},{"k":"b","l":"3-6","x":122,"y":19.7},{"k":"b","l":"3-6","x":114.1,"y":21},{"k":"b","l":"3-6","x":108.8,"y":20.6},{"k":"b","l":"3-6","x":106.1,"y":16.7},{"k":"b","l":"3-6","x":103.4,"y":13.7},{"k":"b","l":"3-6","x":99.5,"y":12},{"k":"b","l":"3-6","x":94.2,"y":10.2},{"k":"b","l":"3-6","x":90.2,"y":8.4},{"k":"b","l":"3-6","x":82.2,"y":9.3},{"k":"b","l":"3-6","x":82.2,"y":1},{"k":"b","l":"3-6","x":14.6,"y":1},{"k":"b","l":"3-6","x":10.6,"y":1.4},{"k":"b","l":"3-6","x":8,"y":4},{"k":"b","l":"3-6","x":6.6,"y":7.9},{"k":"b","l":"3-6","x":6.6,"y":36.2},
{"k":"c","l":"6-9","x":6.6,"y":36.2},{"k":"c","l":"6-9","x":10.6,"y":37},{"k":"c","l":"6-9","x":14.6,"y":37.9},{"k":"c","l":"6-9","x":205.6,"y":37.9},{"k":"c","l":"6-9","x":205.6,"y":37.3},{"k":"c","l":"6-9","x":346.2,"y":37},{"k":"c","l":"6-9","x":346.2,"y":36.3},{"k":"c","l":"6-9","x":344.8,"y":20.5},{"k":"c","l":"6-9","x":342.2,"y":18.3},{"k":"c","l":"6-9","x":338.2,"y":18.8},{"k":"c","l":"6-9","x":333.7,"y":21},{"k":"c","l":"6-9","x":331.6,"y":26.7},{"k":"c","l":"6-9","x":328.9,"y":28},{"k":"c","l":"6-9","x":324.9,"y":29.3},{"k":"c","l":"6-9","x":321,"y":28.5},{"k":"c","l":"6-9","x":317,"y":25.3},{"k":"c","l":"6-9","x":313,"y":21.4},{"k":"c","l":"6-9","x":307.7,"y":20.6},{"k":"c","l":"6-9","x":299.7,"y":20.6},{"k":"c","l":"6-9","x":291.8,"y":21.4},{"k":"c","l":"6-9","x":286.5,"y":22.5},{"k":"c","l":"6-9","x":275.9,"y":22.5},{"k":"c","l":"6-9","x":265.3,"y":22.3},{"k":"c","l":"6-9","x":257.3,"y":22.3},{"k":"c","l":"6-9","x":246.7,"y":23.1},{"k":"c","l":"6-9","x":242.7,"y":25.7},{"k":"c","l":"6-9","x":240.1,"y":26.6},{"k":"c","l":"6-9","x":237.4,"y":25.7},{"k":"c","l":"6-9","x":233.4,"y":22.7},{"k":"c","l":"6-9","x":225.5,"y":22},{"k":"c","l":"6-9","x":217.5,"y":22.7},{"k":"c","l":"6-9","x":209.5,"y":24},{"k":"c","l":"6-9","x":204.2,"y":26.6},{"k":"c","l":"6-9","x":197.6,"y":27.1},{"k":"c","l":"6-9","x":193.6,"y":25.3},{"k":"c","l":"6-9","x":188.3,"y":24},{"k":"c","l":"6-9","x":183,"y":23.6},{"k":"c","l":"6-9","x":180.4,"y":25.7},{"k":"c","l":"6-9","x":175.1,"y":25.8},{"k":"c","l":"6-9","x":167.1,"y":25.7},{"k":"c","l":"6-9","x":159.2,"y":26},{"k":"c","l":"6-9","x":148.5,"y":26.6},{"k":"c","l":"6-9","x":144.6,"y":27},{"k":"c","l":"6-9","x":137.9,"y":26.6},{"k":"c","l":"6-9","x":124.7,"y":26.2},{"k":"c","l":"6-9","x":111.4,"y":25.7},{"k":"c","l":"6-9","x":106.1,"y":25.3},{"k":"c","l":"6-9","x":92.8,"y":25.3},{"k":"c","l":"6-9","x":84.9,"y":25.1},{"k":"c","l":"6-9","x":80.9,"y":24.4},{"k":"c","l":"6-9","x":79.6,"y":15.5},{"k":"c","l":"6-9","x":76.9,"y":14},{"k":"c","l":"6-9","x":74.3,"y":15.5},{"k":"c","l":"6-9","x":70.3,"y":16.8},{"k":"c","l":"6-9","x":67.6,"y":14.7},{"k":"c","l":"6-9","x":66.3,"y":5.8},{"k":"c","l":"6-9","x":65,"y":1.5},{"k":"c","l":"6-9","x":39.8,"y":1.5},{"k":"c","l":"6-9","x":26.5,"y":1.7},{"k":"c","l":"6-9","x":23.9,"y":3.1},{"k":"c","l":"6-9","x":18.6,"y":5.8},{"k":"c","l":"6-9","x":17.2,"y":9},{"k":"c","l":"6-9","x":14.6,"y":12},{"k":"c","l":"6-9","x":11.9,"y":13.3},{"k":"c","l":"6-9","x":9.3,"y":12},{"k":"c","l":"6-9","x":6.6,"y":10.1},{"k":"c","l":"6-9","x":6.6,"y":36.2},
{"k":"d","l":">9","x":41.1,"y":37.9},{"k":"d","l":">9","x":41.1,"y":31.5},{"k":"d","l":">9","x":49.1,"y":33.3},{"k":"d","l":">9","x":51.7,"y":32},{"k":"d","l":">9","x":53,"y":28.9},{"k":"d","l":">9","x":55.7,"y":26.6},{"k":"d","l":">9","x":61,"y":23.3},{"k":"d","l":">9","x":63.7,"y":27.2},{"k":"d","l":">9","x":65,"y":29.2},{"k":"d","l":">9","x":69,"y":29.7},{"k":"d","l":">9","x":74.3,"y":28.8},{"k":"d","l":">9","x":80.9,"y":28.1},{"k":"d","l":">9","x":83.6,"y":29.2},{"k":"d","l":">9","x":87.5,"y":30.1},{"k":"d","l":">9","x":92.8,"y":31},{"k":"d","l":">9","x":98.1,"y":29.7},{"k":"d","l":">9","x":103.4,"y":28.8},{"k":"d","l":">9","x":111.4,"y":28.3},{"k":"d","l":">9","x":118,"y":27.7},{"k":"d","l":">9","x":122,"y":27.5},{"k":"d","l":">9","x":124.7,"y":28.8},{"k":"d","l":">9","x":132.6,"y":29.7},{"k":"d","l":">9","x":137.9,"y":31},{"k":"d","l":">9","x":143.2,"y":32.7},{"k":"d","l":">9","x":145.9,"y":34},{"k":"d","l":">9","x":148.5,"y":31.9},{"k":"d","l":">9","x":152.5,"y":31},{"k":"d","l":">9","x":153.8,"y":32.7},{"k":"d","l":">9","x":156.5,"y":36.2},{"k":"d","l":">9","x":156,"y":37.9},{"k":"d","l":">9","x":41.1,"y":37.9},
{"k":"e","l":">9","x":54.4,"y":22.3},{"k":"e","l":">9","x":51.7,"y":14.4},{"k":"e","l":">9","x":50.4,"y":5.7},{"k":"e","l":">9","x":54.4,"y":2.9},{"k":"e","l":">9","x":57,"y":5.7},{"k":"e","l":">9","x":58.4,"y":12.3},{"k":"e","l":">9","x":56.2,"y":22.3},{"k":"e","l":">9","x":54.4,"y":22.3},
{"k":"f","l":">9","x":41.1,"y":5.7},{"k":"f","l":">9","x":41.1,"y":2.7},{"k":"f","l":">9","x":45.1,"y":2.7},{"k":"f","l":">9","x":45.1,"y":4.6},{"k":"f","l":">9","x":41.1,"y":5.7},
{"k":"g","l":"1-3","x":6.6,"y":9},{"k":"g","l":"1-3","x":9.5,"y":10.5},{"k":"g","l":"1-3","x":12,"y":10},{"k":"g","l":"1-3","x":14.6,"y":7.5},{"k":"g","l":"1-3","x":17,"y":5},{"k":"g","l":"1-3","x":20,"y":3.5},{"k":"g","l":"1-3","x":24,"y":1.6},{"k":"g","l":"1-3","x":14.6,"y":1},{"k":"g","l":"1-3","x":10.6,"y":1.4},{"k":"g","l":"1-3","x":8,"y":4},{"k":"g","l":"1-3","x":6.6,"y":7.9},{"k":"g","l":"1-3","x":6.6,"y":9}
],
"c98":[{"x":46.4,"y":40.9},{"x":53,"y":37.6},{"x":67.6,"y":36},{"x":88.9,"y":36.3},{"x":33.2,"y":34.4},{"x":108.8,"y":34.4},{"x":74.3,"y":33},{"x":59.7,"y":31.2},{"x":80.9,"y":31.4},{"x":95.5,"y":30.7},{"x":123.3,"y":30.9},{"x":116.7,"y":28.8},{"x":131.3,"y":29.3},{"x":137.9,"y":32.5},{"x":144.6,"y":28},{"x":152.5,"y":27.9},{"x":159.2,"y":28.3},{"x":165.8,"y":30.2},{"x":172.4,"y":29.7},{"x":180.4,"y":27.2},{"x":187,"y":25.2},{"x":193.6,"y":24.6},{"x":200.3,"y":23.7},{"x":208.2,"y":23.7},{"x":214.9,"y":23.9},{"x":221.5,"y":25.2},{"x":228.1,"y":25.1},{"x":236.1,"y":24.6},{"x":242.7,"y":23.6},{"x":257.3,"y":23},{"x":267.9,"y":23},{"x":287.8,"y":21.1},{"x":291.8,"y":21},{"x":298.4,"y":21.2},{"x":306.4,"y":20.4},{"x":313,"y":19.9},{"x":321,"y":20.3},{"x":327.6,"y":18},{"x":334.2,"y":19},{"x":342.2,"y":17.6},{"x":347.5,"y":16.5},{"x":362.1,"y":14.3}],
"c99":[{"x":66.3,"y":35.5},{"x":59.7,"y":33.9},{"x":108.8,"y":33.1},{"x":115.4,"y":31.3},{"x":122,"y":31},{"x":100.8,"y":28.8},{"x":72.9,"y":27.7},{"x":80.9,"y":26.1},{"x":87.5,"y":24.3},{"x":130,"y":29.3},{"x":136.6,"y":27.4},{"x":143.2,"y":29.3},{"x":151.2,"y":25.6},{"x":157.8,"y":27.3},{"x":164.5,"y":24.6},{"x":171.1,"y":24.9},{"x":179,"y":23},{"x":228.1,"y":21.3},{"x":234.7,"y":21.1},{"x":241.4,"y":20.4},{"x":249.3,"y":21.8},{"x":257.3,"y":21.2},{"x":277.2,"y":19.3},{"x":283.8,"y":19.7},{"x":290.5,"y":18.2},{"x":298.4,"y":18.8},{"x":305,"y":17.6},{"x":311.7,"y":16.2},{"x":319.6,"y":17.2},{"x":326.3,"y":17.3},{"x":332.9,"y":16.2},{"x":334.2,"y":18.9},{"x":340.8,"y":17.5},{"x":347.5,"y":16.4},{"x":343,"y":12.8},{"x":347.5,"y":10.5},{"x":354.1,"y":10.7},{"x":358.1,"y":6.3},{"x":360.2,"y":15.4}],
"c00":[{"x":72.9,"y":34},{"x":94.2,"y":34},{"x":100.3,"y":32.6},{"x":79,"y":31.6},{"x":106.6,"y":29.2},{"x":85.4,"y":27.3},{"x":122,"y":29.2},{"x":128.6,"y":30.1},{"x":135.3,"y":28.3},{"x":143.2,"y":27.6},{"x":149.9,"y":29.7},{"x":156.5,"y":28.7},{"x":164.5,"y":26.8},{"x":171.1,"y":26.7},{"x":177.7,"y":27.3},{"x":183,"y":25.7},{"x":192.3,"y":25.7},{"x":198.9,"y":23.8},{"x":205.6,"y":23},{"x":213.5,"y":23.3},{"x":219.6,"y":24.3},{"x":226.8,"y":22.5},{"x":233.4,"y":22.2},{"x":242.7,"y":22},{"x":249.3,"y":22.6},{"x":256,"y":21.4},{"x":262.6,"y":21.4},{"x":269.2,"y":21.7},{"x":277.2,"y":21.7},{"x":285.1,"y":19.5},{"x":297.1,"y":20.2},{"x":302.4,"y":19.2},{"x":311.7,"y":19.7},{"x":318.3,"y":17.3},{"x":324.9,"y":17},{"x":334.2,"y":16.6},{"x":338.2,"y":14.4},{"x":344.8,"y":12.3},{"x":355.4,"y":14.4},{"x":360.7,"y":11.8}],
"c01":[{"x":37.1,"y":36.2},{"x":41.9,"y":37},{"x":69.5,"y":33.2},{"x":90.7,"y":33},{"x":77.5,"y":31.4},{"x":62.9,"y":28.9},{"x":84.1,"y":28.4},{"x":105.3,"y":28.4},{"x":113.5,"y":25.7},{"x":120.7,"y":23.9},{"x":127.3,"y":24.4},{"x":134,"y":25.1},{"x":139.3,"y":26.7},{"x":148.5,"y":27.3},{"x":155.2,"y":27.3},{"x":160.5,"y":23.8},{"x":169.2,"y":24},{"x":175.9,"y":24.3},{"x":182.5,"y":21.4},{"x":190.5,"y":21.4},{"x":197.6,"y":21.4},{"x":203.7,"y":22},{"x":210.3,"y":20.5},{"x":217.5,"y":20.5},{"x":226.8,"y":20.3},{"x":233.4,"y":20},{"x":240.1,"y":20.7},{"x":246.7,"y":20.6},{"x":253.3,"y":19.5},{"x":267.4,"y":18.4},{"x":288.6,"y":17.8},{"x":295.2,"y":17.3},{"x":303.2,"y":18.7},{"x":310.3,"y":18.1},{"x":317,"y":18},{"x":323.6,"y":14.9},{"x":330.2,"y":14.9},{"x":337.4,"y":13.9},{"x":344.3,"y":11.3},{"x":350.1,"y":14.7},{"x":356.8,"y":14.4},{"x":357.6,"y":9.2}],
"s98":[{"x":37.1,"y":34.8},{"x":46.4,"y":33.5},{"x":52.5,"y":33.8},{"x":58.4,"y":35.9},{"x":67.6,"y":34.1},{"x":79.6,"y":33.6},{"x":87.5,"y":33},{"x":95.5,"y":32.4},{"x":107.4,"y":32.4},{"x":115.4,"y":31.2},{"x":123.3,"y":31.2},{"x":130,"y":30},{"x":137.9,"y":30},{"x":144.6,"y":29.6},{"x":152.5,"y":29.5},{"x":163.1,"y":28.9},{"x":169.8,"y":28.3},{"x":176.4,"y":27.4},{"x":185.7,"y":25.9},{"x":193.6,"y":24.8},{"x":201.6,"y":24.3},{"x":212.2,"y":24.3},{"x":222.8,"y":24.6},{"x":233.4,"y":24.3},{"x":246.7,"y":23.7},{"x":259.9,"y":23},{"x":273.2,"y":22.4},{"x":286.5,"y":22},{"x":294.4,"y":21.3},{"x":305,"y":20.8},{"x":318.3,"y":19.9},{"x":331.6,"y":18.9},{"x":342.2,"y":17.6},{"x":352.8,"y":16.1},{"x":361.3,"y":14.6}],
"s99":[{"x":58.4,"y":33.6},{"x":65,"y":31.7},{"x":71.6,"y":29.8},{"x":79.6,"y":28.8},{"x":87.5,"y":28.1},{"x":95.5,"y":28.7},{"x":106.1,"y":29.8},{"x":112.7,"y":30.7},{"x":118,"y":30.7},{"x":126,"y":30},{"x":134,"y":28.9},{"x":143.2,"y":27.8},{"x":152.5,"y":26.9},{"x":159.2,"y":26.3},{"x":165.8,"y":25},{"x":175.1,"y":23.5},{"x":183,"y":22.8},{"x":201.6,"y":22.6},{"x":226.8,"y":22.3},{"x":238.7,"y":21.5},{"x":249.3,"y":20.9},{"x":265.3,"y":20.4},{"x":275.9,"y":20},{"x":289.1,"y":18.7},{"x":299.7,"y":18},{"x":310.3,"y":17.4},{"x":319.6,"y":17.2},{"x":326.3,"y":16.3},{"x":332.9,"y":15},{"x":339.5,"y":13.7},{"x":347.5,"y":12},{"x":355.4,"y":9.8},{"x":358.9,"y":8}],
"s00":[{"x":77.7,"y":33.1},{"x":84.9,"y":32.3},{"x":92.8,"y":31.3},{"x":99.5,"y":30.7},{"x":106.1,"y":31.2},{"x":114.1,"y":30.5},{"x":122,"y":29.9},{"x":127.3,"y":29.1},{"x":135.3,"y":29.1},{"x":141.9,"y":29.1},{"x":148.5,"y":28.5},{"x":155.2,"y":27.9},{"x":161.8,"y":27.8},{"x":169.8,"y":27.3},{"x":177.7,"y":26.6},{"x":185.7,"y":25.7},{"x":196.3,"y":24.6},{"x":206.9,"y":24.2},{"x":217.5,"y":23.5},{"x":230.8,"y":23.1},{"x":244,"y":22.6},{"x":257.3,"y":22},{"x":270.6,"y":21.5},{"x":283.8,"y":21},{"x":294.4,"y":20.3},{"x":305,"y":19.4},{"x":315.6,"y":18.5},{"x":323.6,"y":17.5},{"x":331.6,"y":16.2},{"x":339.5,"y":15.1},{"x":347.5,"y":14},{"x":355.4,"y":13.1},{"x":360.2,"y":12}],
"s01":[{"x":49.1,"y":36},{"x":55.7,"y":35.1},{"x":62.3,"y":33.6},{"x":69,"y":32.1},{"x":76.9,"y":31.2},{"x":83.6,"y":30.8},{"x":90.2,"y":29.7},{"x":98.1,"y":28.8},{"x":106.1,"y":28},{"x":112.7,"y":27.1},{"x":119.4,"y":25.7},{"x":126,"y":25.4},{"x":132.6,"y":25.7},{"x":139.3,"y":26.4},{"x":148.5,"y":26.1},{"x":159.2,"y":25.7},{"x":167.1,"y":24.7},{"x":175.1,"y":23.1},{"x":185.7,"y":22.3},{"x":196.3,"y":21.6},{"x":206.9,"y":21.2},{"x":217.5,"y":20.7},{"x":228.1,"y":20.3},{"x":238.7,"y":20.1},{"x":249.3,"y":19.7},{"x":259.9,"y":19.2},{"x":270.6,"y":18.8},{"x":286.5,"y":18.5},{"x":297.1,"y":18.1},{"x":305,"y":17.7},{"x":313,"y":17},{"x":321,"y":15.9},{"x":329.2,"y":14.9},{"x":336.9,"y":13.8},{"x":344.8,"y":12.7},{"x":351.5,"y":11.7},{"x":358.9,"y":11.7}]
},
"concat":[
 {"width":460,"height":345,"layer":[
  {"data":{"name":"g98"},"mark":{"type":"line","stroke":"black","strokeWidth":1,"strokeJoin":"round"},
   "encoding":{"x":{"field":"x","type":"quantitative","scale":{"domain":[0,364.8],"nice":false,"zero":false},"axis":{"orient":"bottom","values":[0,100,200,300],"labels":false,"title":null}},
   "y":{"field":"y","type":"quantitative","scale":{"domain":[0,44.8],"nice":false,"zero":false},"axis":{"orient":"left","values":[0,10,20,30,40],"labelFontSize":25,"labelPadding":16,"title":"Z (m)","titleFontSize":25,"titleX":-52,"titleY":346,"titleBaseline":"bottom"}},
   "detail":{"field":"k"},"order":{"value":null},
   "fill":{"field":"l","type":"nominal","scale":{"domain":[">9","6-9","3-6","1-3","<1"],"range":["#FF9900","#FFCC00","#FFFF00","#FFFF99","#FFFFFF"]},
     "legend":{"title":null,"orient":"none","legendX":628,"legendY":182,"symbolType":"square","symbolSize":841,"symbolStrokeColor":"black","symbolStrokeWidth":1,"labelFont":"Liberation Serif","labelFontSize":23,"labelColor":"black","labelOffset":14,"rowPadding":4,"padding":8,"strokeColor":"black","fillColor":"white","labelLimit":0}}}},
  {"data":{"name":"c98"},"mark":{"type":"circle","size":72,"opacity":1},
   "encoding":{"x":{"field":"x","type":"quantitative","axis":{"orient":"top","values":[0,100,200,300],"labels":false,"title":null}},
   "y":{"field":"y","type":"quantitative","axis":{"orient":"right","values":[0,10,20,30,40],"labels":false,"title":null}},
   "color":{"datum":"C","scale":{"domain":["C","S"],"range":["#0000FF","#FF0000"]},
     "legend":{"title":" ","titleFontSize":8,"titlePadding":2,"orient":"none","legendX":722,"legendY":287,"symbolSize":1100,"labelFont":"Liberation Serif","labelFontSize":23,"labelColor":"black","labelOffset":3,"rowPadding":11,"padding":8,"strokeColor":"black","fillColor":"white",
       "encode":{"symbols":{"update":{"shape":{"signal":"datum.value === 'S' ? 'M-1,-0.5L1,0.5' : 'circle'"},"size":{"signal":"datum.value === 'S' ? 1100 : 196"},"fill":{"signal":"datum.value === 'S' ? 'transparent' : '#0000FF'"},"stroke":{"signal":"datum.value === 'S' ? '#FF0000' : '#0000FF'"},"strokeWidth":{"signal":"datum.value === 'S' ? 4 : 0"}}}}}}}},
  {"data":{"name":"s98"},"mark":{"type":"line","strokeWidth":4},
   "encoding":{"x":{"field":"x","type":"quantitative","axis":null},"y":{"field":"y","type":"quantitative","axis":null},"order":{"value":null},
   "color":{"datum":"S","legend":{"title":" ","titleFontSize":8,"titlePadding":2,"orient":"none","legendX":722,"legendY":287,"symbolSize":1100,"labelFont":"Liberation Serif","labelFontSize":23,"labelColor":"black","labelOffset":3,"rowPadding":11,"padding":8,"strokeColor":"black","fillColor":"white",
       "encode":{"symbols":{"update":{"shape":{"signal":"datum.value === 'S' ? 'M-1,-0.5L1,0.5' : 'circle'"},"size":{"signal":"datum.value === 'S' ? 1100 : 196"},"fill":{"signal":"datum.value === 'S' ? 'transparent' : '#0000FF'"},"stroke":{"signal":"datum.value === 'S' ? '#FF0000' : '#0000FF'"},"strokeWidth":{"signal":"datum.value === 'S' ? 4 : 0"}}}}}}}},
  {"data":{"values":[{"x":310.6,"y":4.8,"t":"1998"}]},"mark":{"type":"text","font":"Liberation Serif","fontSize":28.5,"fontWeight":"bold","baseline":"middle","color":"black"},
   "encoding":{"x":{"field":"x","type":"quantitative","axis":null},"y":{"field":"y","type":"quantitative","axis":null},"text":{"field":"t"}}}
 ]},
 {"width":451,"height":345,"layer":[
  {"data":{"name":"g99"},"mark":{"type":"line","stroke":"black","strokeWidth":1,"strokeJoin":"round","clip":true},
   "encoding":{"x":{"field":"x","type":"quantitative","scale":{"domain":[0,357.6],"nice":false,"zero":false},"axis":{"orient":"bottom","values":[0,100,200,300],"labels":false,"title":null}},
   "y":{"field":"y","type":"quantitative","scale":{"domain":[0,44.8],"nice":false,"zero":false},"axis":{"orient":"left","values":[0,10,20,30,40],"labels":false,"title":null}},
   "detail":{"field":"k"},"order":{"value":null},"fill":{"field":"l","type":"nominal"}}},
  {"data":{"name":"c99"},"mark":{"type":"circle","size":72,"opacity":1,"clip":true},
   "encoding":{"x":{"field":"x","type":"quantitative","axis":{"orient":"top","values":[0,100,200,300],"labels":false,"title":null}},
   "y":{"field":"y","type":"quantitative","axis":null},"color":{"datum":"C"}}},
  {"data":{"name":"s99"},"mark":{"type":"line","strokeWidth":4,"clip":true},
   "encoding":{"x":{"field":"x","type":"quantitative","axis":null},"y":{"field":"y","type":"quantitative","axis":null},"order":{"value":null},"color":{"datum":"S"}}},
  {"data":{"values":[{"x":303.4,"y":5.1,"t":"1999"}]},"mark":{"type":"text","font":"Liberation Serif","fontSize":28.5,"fontWeight":"bold","baseline":"middle","color":"black"},
   "encoding":{"x":{"field":"x","type":"quantitative","axis":null},"y":{"field":"y","type":"quantitative","axis":null},"text":{"field":"t"}}}
 ]},
 {"width":460,"height":345,"layer":[
  {"data":{"name":"g00"},"mark":{"type":"line","stroke":"black","strokeWidth":1,"strokeJoin":"round"},
   "encoding":{"x":{"field":"x","type":"quantitative","scale":{"domain":[0,364.8],"nice":false,"zero":false},"axis":{"orient":"bottom","values":[0,100,200,300],"labelFontSize":27,"labelPadding":15,"title":"Date-Julian Day","titleFontSize":30,"titleX":443,"titleY":59,"titleBaseline":"alphabetic"}},
   "y":{"field":"y","type":"quantitative","scale":{"domain":[0,44.8],"nice":false,"zero":false},"axis":{"orient":"left","values":[0,10,20,30,40],"labelFontSize":25,"labelPadding":16,"title":null}},
   "detail":{"field":"k"},"order":{"value":null},"fill":{"field":"l","type":"nominal"}}},
  {"data":{"name":"c00"},"mark":{"type":"circle","size":72,"opacity":1},
   "encoding":{"x":{"field":"x","type":"quantitative","axis":{"orient":"top","values":[0,100,200,300],"labels":false,"title":null}},
   "y":{"field":"y","type":"quantitative","axis":{"orient":"right","values":[0,10,20,30,40],"labels":false,"title":null}},"color":{"datum":"C"}}},
  {"data":{"name":"s00"},"mark":{"type":"line","strokeWidth":4},
   "encoding":{"x":{"field":"x","type":"quantitative","axis":null},"y":{"field":"y","type":"quantitative","axis":null},"order":{"value":null},"color":{"datum":"S"}}},
  {"data":{"values":[{"x":318,"y":4.65,"t":"2000"}]},"mark":{"type":"text","font":"Liberation Serif","fontSize":28.5,"fontWeight":"bold","baseline":"middle","color":"black"},
   "encoding":{"x":{"field":"x","type":"quantitative","axis":null},"y":{"field":"y","type":"quantitative","axis":null},"text":{"field":"t"}}}
 ]},
 {"width":451,"height":345,"layer":[
  {"data":{"name":"g01"},"mark":{"type":"line","stroke":"black","strokeWidth":1,"strokeJoin":"round","clip":true},
   "encoding":{"x":{"field":"x","type":"quantitative","scale":{"domain":[0,357.6],"nice":false,"zero":false},"axis":{"orient":"bottom","values":[0,100,200,300],"labelFontSize":27,"labelPadding":15,"title":null}},
   "y":{"field":"y","type":"quantitative","scale":{"domain":[0,44.8],"nice":false,"zero":false},"axis":{"orient":"left","values":[0,10,20,30,40],"labels":false,"title":null}},
   "detail":{"field":"k"},"order":{"value":null},"fill":{"field":"l","type":"nominal"}}},
  {"data":{"name":"c01"},"mark":{"type":"circle","size":72,"opacity":1,"clip":true},
   "encoding":{"x":{"field":"x","type":"quantitative","axis":{"orient":"top","values":[0,100,200,300],"labels":false,"title":null}},
   "y":{"field":"y","type":"quantitative","axis":null},"color":{"datum":"C"}}},
  {"data":{"name":"s01"},"mark":{"type":"line","strokeWidth":4,"clip":true},
   "encoding":{"x":{"field":"x","type":"quantitative","axis":null},"y":{"field":"y","type":"quantitative","axis":null},"order":{"value":null},"color":{"datum":"S"}}},
  {"data":{"values":[{"x":309.8,"y":4.96,"t":"2001"}]},"mark":{"type":"text","font":"Liberation Serif","fontSize":28.5,"fontWeight":"bold","baseline":"middle","color":"black"},
   "encoding":{"x":{"field":"x","type":"quantitative","axis":null},"y":{"field":"y","type":"quantitative","axis":null},"text":{"field":"t"}}}
 ]}
]
}
